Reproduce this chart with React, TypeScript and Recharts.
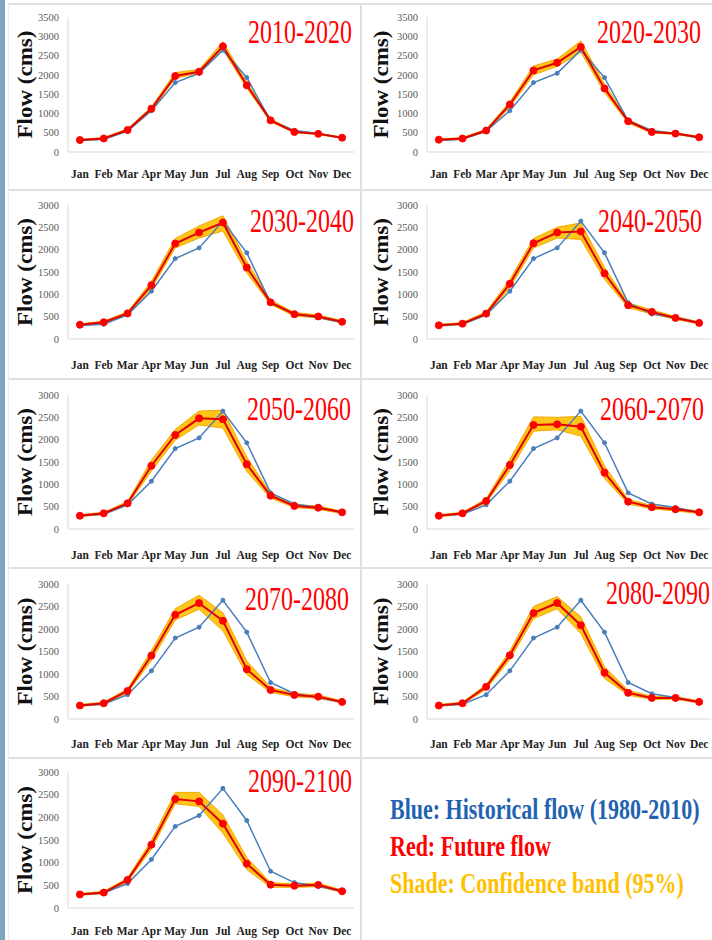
import React from 'react';
import { ComposedChart, Line, Area, XAxis, YAxis } from 'recharts';

const months = ['Jan', 'Feb', 'Mar', 'Apr', 'May', 'Jun', 'Jul', 'Aug', 'Sep', 'Oct', 'Nov', 'Dec'];
const historical = [300, 330, 540, 1070, 1800, 2040, 2640, 1930, 810, 560, 480, 370];

const periods = ['2010-2020', '2020-2030', '2030-2040', '2040-2050', '2050-2060', '2060-2070', '2070-2080', '2080-2090', '2090-2100'];

const future2010 = [310, 350, 570, 1120, 1970, 2080, 2740, 1730, 820, 520, 470, 370];
const lo2010 = [290, 330, 540, 1080, 1910, 2040, 2650, 1660, 780, 500, 450, 355];
const hi2010 = [330, 375, 600, 1170, 2060, 2140, 2860, 1810, 860, 545, 490, 390];

const future2020 = [320, 350, 556, 1232, 2116, 2314, 2722, 1648, 798, 520, 478, 382];
const lo2020 = [300, 330, 520, 1160, 2000, 2220, 2590, 1540, 750, 490, 455, 360];
const hi2020 = [340, 375, 590, 1300, 2230, 2410, 2880, 1760, 845, 550, 500, 405];

const future2030 = [320, 375, 574, 1206, 2137, 2383, 2607, 1601, 820, 555, 505, 385];
const lo2030 = [300, 350, 540, 1120, 2040, 2260, 2420, 1480, 770, 515, 470, 360];
const hi2030 = [340, 400, 610, 1290, 2250, 2530, 2760, 1740, 870, 595, 540, 410];

const future2040 = [306, 344, 569, 1237, 2144, 2385, 2407, 1469, 756, 607, 472, 360];
const lo2040 = [285, 320, 530, 1140, 2040, 2260, 2230, 1340, 700, 560, 440, 335];
const hi2040 = [330, 370, 610, 1330, 2250, 2500, 2600, 1600, 810, 650, 505, 385];

const future2050 = [298, 351, 575, 1417, 2105, 2478, 2456, 1448, 746, 515, 477, 373];
const lo2050 = [275, 325, 535, 1300, 1990, 2330, 2260, 1290, 690, 480, 440, 345];
const hi2050 = [320, 375, 615, 1540, 2230, 2640, 2660, 1610, 800, 550, 515, 400];

const future2060 = [298, 351, 627, 1433, 2329, 2344, 2291, 1261, 612, 486, 441, 373];
const lo2060 = [275, 325, 580, 1310, 2190, 2220, 2080, 1130, 560, 450, 405, 345];
const hi2060 = [320, 375, 675, 1560, 2510, 2500, 2520, 1410, 665, 525, 475, 400];

const future2070 = [300, 350, 623, 1410, 2316, 2576, 2182, 1107, 646, 534, 497, 380];
const lo2070 = [280, 325, 580, 1300, 2200, 2440, 1960, 990, 590, 495, 460, 355];
const hi2070 = [325, 375, 670, 1520, 2450, 2750, 2360, 1290, 700, 570, 535, 405];

const future2080 = [300, 350, 714, 1415, 2353, 2577, 2085, 1027, 581, 469, 469, 380];
const lo2080 = [280, 325, 660, 1320, 2230, 2450, 1900, 900, 530, 435, 440, 355];
const hi2080 = [325, 375, 765, 1510, 2500, 2720, 2270, 1160, 635, 505, 500, 405];

const future2090 = [300, 340, 620, 1396, 2404, 2352, 1860, 977, 514, 492, 510, 370];
const lo2090 = [280, 315, 575, 1300, 2300, 2240, 1650, 850, 460, 455, 470, 345];
const hi2090 = [325, 365, 665, 1490, 2550, 2550, 2050, 1110, 560, 530, 550, 395];

const ticks3500 = [0, 500, 1000, 1500, 2000, 2500, 3000, 3500];
const ticks3000 = [0, 500, 1000, 1500, 2000, 2500, 3000];

const legendLines = ['Blue: Historical flow (1980-2010)', 'Red: Future flow', 'Shade: Confidence band (95%)'];

const SERIF = '"Liberation Serif", "Times New Roman", Times, serif';
const BLUE = '#4a7ebb';
const RED = '#ff0000';
const GOLD = '#ffc000';

const futures = [future2010, future2020, future2030, future2040, future2050, future2060, future2070, future2080, future2090];
const los = [lo2010, lo2020, lo2030, lo2040, lo2050, lo2060, lo2070, lo2080, lo2090];
const his = [hi2010, hi2020, hi2030, hi2040, hi2050, hi2060, hi2070, hi2080, hi2090];

const COLS = [
  { cellLeft: 8, cellWidth: 353, plotLeft: 68, plotRight: 354, labelX: 32 },
  { cellLeft: 363, cellWidth: 349, plotLeft: 427, plotRight: 711, labelX: 388 },
];
const ROWS = [
  { top: 5, h: 185, plotTop: 17, plotBottom: 152, tickBase: 26, ticks: ticks3500 },
  { top: 191, h: 187, plotTop: 205, plotBottom: 339, tickBase: 30, ticks: ticks3000 },
  { top: 380, h: 187, plotTop: 395, plotBottom: 529, tickBase: 30, ticks: ticks3000 },
  { top: 569, h: 188, plotTop: 584, plotBottom: 719, tickBase: 29, ticks: ticks3000 },
  { top: 760, h: 180, plotTop: 772, plotBottom: 908, tickBase: 27, ticks: ticks3000 },
];
const TITLE_POS = [
  [248, 43], [597, 43], [250, 232], [598, 232], [247, 420], [600, 420], [245, 610], [606, 604], [248, 792],
];

const XTick = (props: any) => {
  const { x, y, payload, base } = props;
  return (
    <text
      transform={`translate(${x},${y + base}) scale(0.88,1)`}
      textAnchor="middle"
      fontSize={13}
      fontWeight="bold"
      fontFamily={SERIF}
      fill="#222"
    >
      {payload.value}
    </text>
  );
};

function Panel({ idx }: { idx: number }) {
  const col = COLS[idx % 2];
  const row = ROWS[Math.floor(idx / 2)];
  const data = months.map((m, i) => ({
    month: m,
    hist: historical[i],
    fut: futures[idx][i],
    band: [los[idx][i], his[idx][i]],
  }));
  const yAxisW = 50;
  const xAxisH = 30;
  const margin = {
    top: row.plotTop - row.top,
    bottom: row.top + row.h - row.plotBottom - xAxisH,
    left: col.plotLeft - col.cellLeft - yAxisW,
    right: col.cellLeft + col.cellWidth - col.plotRight,
  };
  const pad = (col.plotRight - col.plotLeft) / 24;
  const max = row.ticks[row.ticks.length - 1];
  return (
    <div style={{ position: 'absolute', left: col.cellLeft, top: row.top }}>
      <ComposedChart width={col.cellWidth} height={row.h} data={data} margin={margin}>
        <XAxis
          dataKey="month"
          height={xAxisH}
          interval={0}
          tickLine={false}
          tickSize={0}
          tickMargin={0}
          axisLine={{ stroke: '#d9d9d9' }}
          padding={{ left: pad, right: pad }}
          tick={(p: any) => <XTick {...p} base={row.tickBase} />}
        />
        <YAxis
          width={yAxisW}
          domain={[0, max]}
          ticks={row.ticks}
          interval={0}
          tickLine={false}
          tickSize={0}
          tickMargin={9}
          axisLine={{ stroke: '#d9d9d9' }}
          tick={{ fontSize: 10.5, fill: '#595959', fontFamily: SERIF }}
        />
        <Area
          type="linear"
          dataKey="band"
          fill={GOLD}
          fillOpacity={0.9}
          stroke="#f5a800"
          strokeWidth={1}
          dot={false}
          activeDot={false}
          isAnimationActive={false}
        />
        <Line
          type="linear"
          dataKey="hist"
          stroke={BLUE}
          strokeWidth={1.5}
          dot={{ r: 2, fill: BLUE, stroke: BLUE, strokeWidth: 1 }}
          activeDot={false}
          isAnimationActive={false}
        />
        <Line
          type="linear"
          dataKey="fut"
          stroke="#e00000"
          strokeWidth={2}
          dot={{ r: 3.5, fill: RED, stroke: RED, strokeWidth: 1 }}
          activeDot={false}
          isAnimationActive={false}
        />
      </ComposedChart>
    </div>
  );
}

export default function App() {
  return (
    <div
      style={{
        position: 'absolute',
        left: 0,
        top: 0,
        width: 712,
        height: 940,
        overflow: 'hidden',
        background: '#fff',
      }}
    >
      {periods.map((_, i) => (
        <Panel key={i} idx={i} />
      ))}
      <svg width={712} height={940} style={{ position: 'absolute', left: 0, top: 0, pointerEvents: 'none' }}>
        <rect x={0} y={0} width={5} height={940} fill="#7ea6c0" />
        {[4, 190, 379, 568, 758].map((y) => (
          <line key={y} x1={8} x2={712} y1={y} y2={y} stroke="#e0e0e0" strokeWidth={2} />
        ))}
        <line x1={8.5} x2={8.5} y1={4} y2={940} stroke="#ececec" strokeWidth={1} />
        <line x1={361} x2={361} y1={4} y2={940} stroke="#e0e0e0" strokeWidth={2} />
        {periods.map((p, i) => (
          <text
            key={p}
            transform={`translate(${TITLE_POS[i][0]},${TITLE_POS[i][1]}) scale(1,1.36)`}
            fontSize={24}
            fill={RED}
            fontFamily={SERIF}
          >
            {p}
          </text>
        ))}
        {periods.map((p, i) => {
          const col = COLS[i % 2];
          const row = ROWS[Math.floor(i / 2)];
          const cy = (row.plotTop + row.plotBottom) / 2;
          return (
            <text
              key={'yl' + p}
              transform={`translate(${col.labelX},${cy}) rotate(-90)`}
              textAnchor="middle"
              fontSize={22}
              fontWeight="bold"
              fontFamily={SERIF}
              fill="#111"
              textLength={108}
              lengthAdjust="spacingAndGlyphs"
            >
              Flow (cms)
            </text>
          );
        })}
        <text transform="translate(390,819) scale(1,1.36)" fontSize={22} fontWeight="bold" fill="#1f63b0" fontFamily={SERIF}>
          {legendLines[0]}
        </text>
        <text transform="translate(390,856) scale(1,1.36)" fontSize={22} fontWeight="bold" fill={RED} fontFamily={SERIF}>
          {legendLines[1]}
        </text>
        <text transform="translate(390,893) scale(1,1.36)" fontSize={22} fontWeight="bold" fill={GOLD} fontFamily={SERIF}>
          {legendLines[2]}
        </text>
      </svg>
    </div>
  );
}
